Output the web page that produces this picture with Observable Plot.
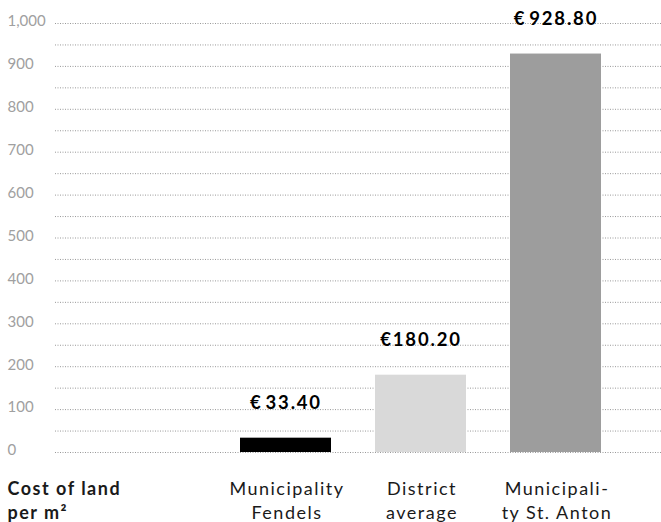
<!DOCTYPE html>
<html><head><meta charset="utf-8">
<script src="https://cdn.jsdelivr.net/npm/d3@7"></script>
<script src="https://cdn.jsdelivr.net/npm/@observablehq/plot@0.6"></script>
<style>
body{margin:0;background:#fff;}
svg{font-family:Lato,"Noto Sans",sans-serif;}
g[font-size="18.5"] text{letter-spacing:1.8px;}
g[font-size="18"] text{letter-spacing:1.5px;}
</style></head>
<body><div id="chart"></div>
<script>
const categories = ["Municipality\nFendels", "District\naverage", "Municipali-\nty St. Anton"];
const values = [33.4, 180.2, 928.8];
const valueLabels = ["€\u200a33.40", "€180.20", "€\u200a928.80"];
const barColors = ["#000000", "#d9d9d9", "#9d9d9d"];
const yTicks = [0, 100, 200, 300, 400, 500, 600, 700, 800, 900, 1000];
const gridLines = d3.range(0, 1001, 50);
const axisTitle = "Cost of land\nper m²";

const data = categories.map((c, i) => ({cat: c, value: values[i], label: valueLabels[i]}));

const chart = Plot.plot({
  width: 661,
  height: 522,
  marginLeft: 55,
  marginRight: 0,
  marginTop: 23,
  marginBottom: 70,
  x: {type: "band", domain: categories, range: [216.8, 623.3], paddingInner: 0.328, paddingOuter: 0.164, axis: null},
  y: {domain: [0, 1000], axis: null},
  color: {domain: categories, range: barColors},
  marks: [
    Plot.ruleY(gridLines, {stroke: "#999", strokeWidth: 1, strokeDasharray: "1,1.5"}),
    Plot.text(yTicks, {y: d => d, text: d => d3.format(",")(d), frameAnchor: "left", dx: -48, textAnchor: "start", fill: "#a0a0a0", fontSize: 15, dy: -2}),
    Plot.barY(data, {x: "cat", y: "value", fill: "cat"}),
    Plot.text(data, {x: "cat", y: "value", text: "label", lineAnchor: "bottom", dy: -29, dx: 0, fontSize: 18.5, fontWeight: "bold", fill: "#000"}),
    Plot.text(data, {x: "cat", y: () => 0, text: "cat", lineAnchor: "top", dy: 26, dx: 1, fontSize: 18, lineHeight: 1.3, fill: "#1a1a1a"}),
    Plot.text([axisTitle], {y: () => 0, text: d => d, frameAnchor: "left", dx: -48, textAnchor: "start", lineAnchor: "top", dy: 26, fontSize: 18, fontWeight: "bold", lineHeight: 1.3, fill: "#1a1a1a"})
  ]
});
document.getElementById("chart").append(chart);
</script></body></html>
